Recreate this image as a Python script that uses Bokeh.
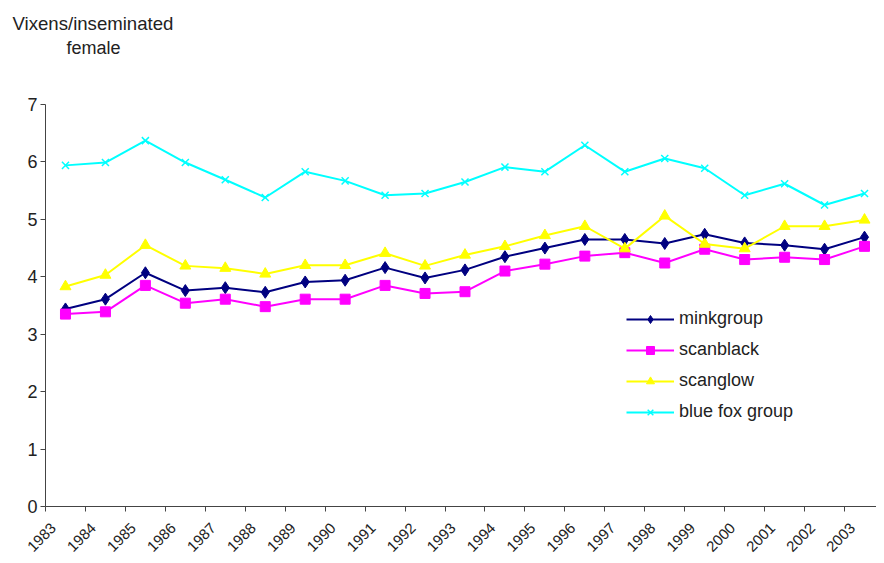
from bokeh.plotting import figure
from bokeh.models import FixedTicker, Legend, LegendItem, Title, Range1d
from bokeh.embed import file_html
from bokeh.resources import INLINE
import math

years = ["1983", "1984", "1985", "1986", "1987", "1988", "1989", "1990", "1991", "1992",
         "1993", "1994", "1995", "1996", "1997", "1998", "1999", "2000", "2001", "2002", "2003"]
minkgroup = [3.44, 3.61, 4.07, 3.76, 3.81, 3.73, 3.91, 3.94, 4.16, 3.98,
             4.12, 4.35, 4.50, 4.65, 4.65, 4.58, 4.74, 4.59, 4.55, 4.48, 4.69]
scanblack = [3.35, 3.39, 3.85, 3.54, 3.61, 3.48, 3.61, 3.61, 3.85, 3.71,
             3.74, 4.10, 4.22, 4.36, 4.42, 4.24, 4.48, 4.30, 4.34, 4.30, 4.53]
scanglow = [3.83, 4.03, 4.55, 4.19, 4.15, 4.05, 4.20, 4.20, 4.41, 4.19,
            4.38, 4.53, 4.72, 4.88, 4.49, 5.06, 4.57, 4.49, 4.88, 4.88, 4.99]
bluefox = [5.94, 5.99, 6.37, 5.99, 5.69, 5.38, 5.83, 5.67, 5.42, 5.45,
           5.65, 5.91, 5.83, 6.29, 5.83, 6.06, 5.89, 5.42, 5.62, 5.25, 5.45]
y_ticks = [0, 1, 2, 3, 4, 5, 6, 7]

FONT = "Liberation Sans"
TXT = "#222222"
AX = "#444444"

xs = list(range(len(years)))

p = figure(width=876, height=560, output_backend="svg", toolbar_location=None,
           x_range=Range1d(-0.5, 20.3), y_range=Range1d(0, 7),
           min_border_left=45, min_border_right=0, min_border_top=104, min_border_bottom=54)
p.outline_line_color = None
p.xgrid.visible = False
p.ygrid.visible = False

# x axis: labels near category centres, tick marks at category boundaries
label_pos = [i - 0.3 for i in xs]
p.xaxis.ticker = FixedTicker(ticks=label_pos, minor_ticks=[i - 0.5 for i in range(len(years) + 1)])
p.xaxis.major_label_overrides = {pos: yr for pos, yr in zip(label_pos, years)}
p.xaxis.major_tick_out = 0
p.xaxis.major_tick_in = 0
p.xaxis.minor_tick_out = 5
p.xaxis.minor_tick_in = 0
p.xaxis.minor_tick_line_color = AX
p.xaxis.major_label_orientation = math.pi / 4
p.xaxis.major_label_standoff = 14
p.xaxis.major_label_text_font_size = "15px"

p.yaxis.ticker = FixedTicker(ticks=y_ticks, minor_ticks=[])
p.yaxis.major_tick_out = 5
p.yaxis.major_tick_in = 0
p.yaxis.major_label_standoff = 3
p.yaxis.major_label_text_font_size = "18px"

for ax in (p.xaxis, p.yaxis):
    ax.axis_line_color = AX
    ax.major_tick_line_color = AX
    ax.major_label_text_font = FONT
    ax.major_label_text_color = TXT

series = [
    ("minkgroup", minkgroup, "#000080", "diamond", 12),
    ("scanblack", scanblack, "#FF00FF", "square", 10),
    ("scanglow", scanglow, "#FFFF00", "triangle", 11),
    ("blue fox group", bluefox, "#00FFFF", "x", 10),
]

items = []
for name, vals, col, marker, size in series:
    r1 = p.line(xs, vals, line_color=col, line_width=2)
    if marker == "x":
        r2 = p.scatter(xs, vals, marker=marker, size=size, line_color=col, line_width=1.5)
    else:
        r2 = p.scatter(xs, vals, marker=marker, size=size, fill_color=col, line_color=col)
    items.append(LegendItem(label=name, renderers=[r1, r2]))

legend = Legend(items=items, location=(581, 84), orientation="vertical",
                glyph_width=48, glyph_height=20, label_height=20, label_standoff=5,
                spacing=10, padding=0, margin=0,
                border_line_color=None, background_fill_alpha=0,
                label_text_font=FONT, label_text_font_size="18px", label_text_color=TXT)
p.add_layout(legend)

# two-line axis title at the top left (first added sits closest to the plot)
p.add_layout(Title(text=" ", align="left", standoff=44, text_font=FONT,
                   text_font_size="1px"), "above")
p.add_layout(Title(text="female", align="left", offset=21, standoff=0,
                   text_font=FONT, text_font_size="18px", text_font_style="normal",
                   text_color=TXT), "above")
p.add_layout(Title(text="Vixens/inseminated", align="left", offset=-33, standoff=3,
                   text_font=FONT, text_font_size="18.6px", text_font_style="normal",
                   text_color=TXT), "above")

open("out.html", "w").write(file_html(p, INLINE))
